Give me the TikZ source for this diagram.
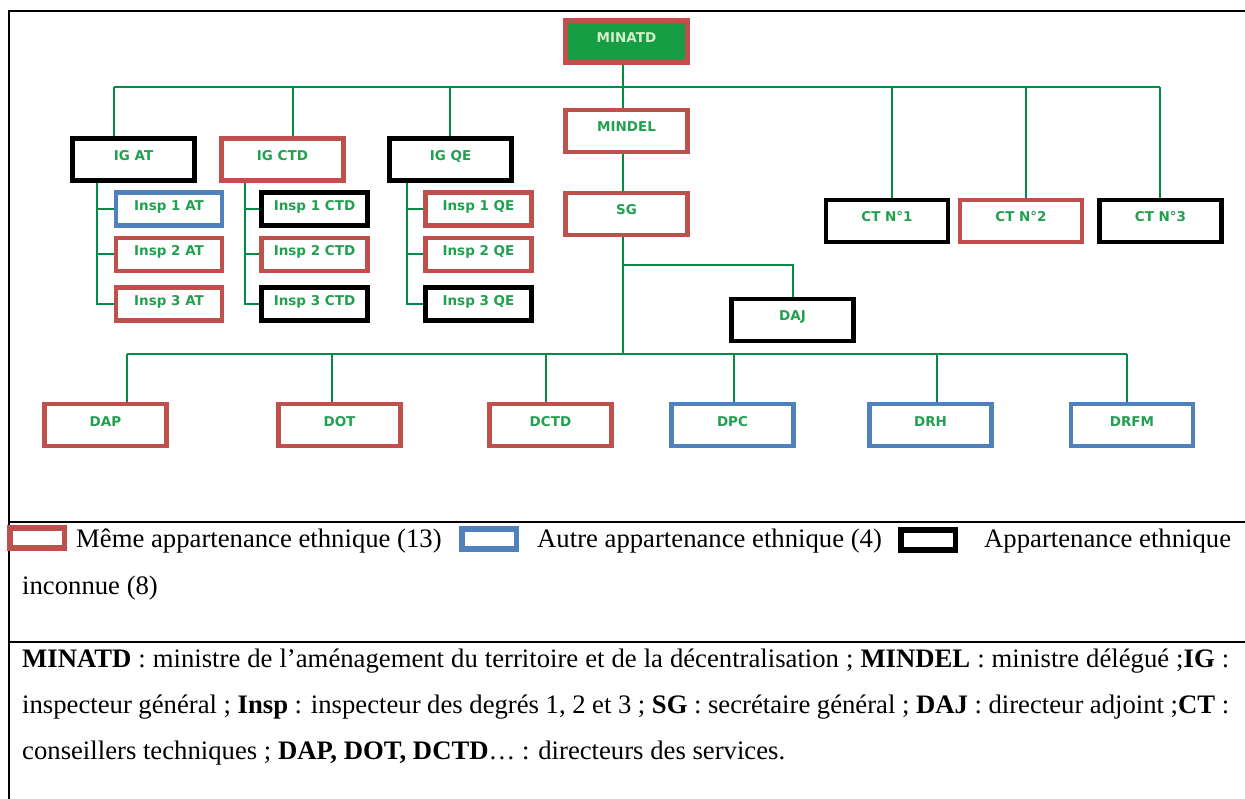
\documentclass[tikz,border=0pt]{standalone}
\usepackage{fontspec}
\setmainfont{Liberation Serif}
\newfontfamily\chartfont{DejaVu Sans}
\usepackage{xcolor}
\usetikzlibrary{positioning}
\usetikzlibrary{calc}
\usetikzlibrary{backgrounds}

\definecolor{boxred}{RGB}{192,80,77}
\definecolor{boxblue}{RGB}{79,129,189}
\definecolor{linegreen}{RGB}{0,140,70}
\definecolor{textgreen}{RGB}{34,160,80}
\definecolor{headgreen}{RGB}{22,158,68}
\definecolor{headtext}{RGB}{210,240,200}

\begin{document}
\begin{tikzpicture}[x=1pt,y=-1pt,
	unit/.style={draw, line width=4.5pt, fill=white, inner sep=0pt, minimum width=122pt, minimum height=42pt, text height=10pt, text depth=8pt, text=textgreen, font=\chartfont\bfseries\fontsize{13.5}{16}\selectfont},
	insp/.style={unit, minimum width=106pt, minimum height=33pt, text depth=7pt},
	link/.style={draw=linegreen, line width=2pt},
	key/.style={draw, line width=5.5pt, fill=white, inner sep=0pt, minimum width=54.5pt, minimum height=20pt},
	legendtext/.style={inner sep=0pt, font=\fontsize{26.7}{32}\selectfont}]

	\useasboundingbox (0,0) rectangle (1245,799);

	% table frame
	\draw[line width=2pt] (9,799) -- (9,11) -- (1245,11);
	\draw[line width=2pt] (9,522) -- (1245,522);
	\draw[line width=2pt] (9,642) -- (1245,642);

	% main column
	\node[unit, draw=boxred, fill=headgreen, text=headtext] (minatd) at (626.5,41.5) {MINATD};
	\node[unit, draw=boxred] (mindel) at (626.5,131) {MINDEL};
	\node[unit, draw=boxred] (sg) at (626.5,214) {SG};
	\node[unit, draw=black] (daj) at (792.5,320) {DAJ};

	% inspections
	\node[unit, draw=black] (igat) at (133.5,159.5) {IG AT};
	\node[unit, draw=boxred] (igctd) at (282.5,159.5) {IG CTD};
	\node[unit, draw=black] (igqe) at (450.5,159.5) {IG QE};

	\node[insp, draw=boxblue] (inspat1) at (169,209) {Insp 1 AT};
	\node[insp, draw=boxred] (inspat2) at (169,254.5) {Insp 2 AT};
	\node[insp, draw=boxred] (inspat3) at (169,304) {Insp 3 AT};

	\node[insp, draw=black] (inspctd1) at (314.5,209) {Insp 1 CTD};
	\node[insp, draw=boxred] (inspctd2) at (314.5,254.5) {Insp 2 CTD};
	\node[insp, draw=black] (inspctd3) at (314.5,304) {Insp 3 CTD};

	\node[insp, draw=boxred] (inspqe1) at (478.5,209) {Insp 1 QE};
	\node[insp, draw=boxred] (inspqe2) at (478.5,254.5) {Insp 2 QE};
	\node[insp, draw=black] (inspqe3) at (478.5,304) {Insp 3 QE};

	% technical advisers
	\node[unit, draw=black] (ct1) at (887,221) {CT N°1};
	\node[unit, draw=boxred] (ct2) at (1021,221) {CT N°2};
	\node[unit, draw=black] (ct3) at (1160.5,221) {CT N°3};

	% directions
	\node[unit, draw=boxred] (dap) at (105.5,425) {DAP};
	\node[unit, draw=boxred] (dot) at (339.5,425) {DOT};
	\node[unit, draw=boxred] (dctd) at (550.5,425) {DCTD};
	\node[unit, draw=boxblue] (dpc) at (732.5,425) {DPC};
	\node[unit, draw=boxblue] (drh) at (930.5,425) {DRH};
	\node[unit, draw=boxblue] (drfm) at (1132,425) {DRFM};

	% connectors
	\coordinate (t1) at (114,87);
	\coordinate (t2) at (293,87);
	\coordinate (t3) at (450,87);
	\coordinate (t4) at (892,87);
	\coordinate (t5) at (1026,87);
	\coordinate (t6) at (1160,87);
	\coordinate (axis) at (623,87);
	\coordinate (fork) at (623,265);
	\coordinate (b1) at (127,354);
	\coordinate (b2) at (332,354);
	\coordinate (b3) at (546,354);
	\coordinate (b4) at (734,354);
	\coordinate (b5) at (937,354);
	\coordinate (b6) at (1127,354);
	\coordinate (atx) at (97,0);
	\coordinate (ctdx) at (245,0);
	\coordinate (qex) at (407,0);

	\begin{scope}[on background layer]
	\draw[link] (t1) -- (t6);
	\draw[link] (axis |- minatd.south) -- (axis |- mindel.north);
	\draw[link] (axis |- mindel.south) -- (axis |- sg.north);
	\draw[link] (axis |- sg.south) -- (axis |- b1);
	\draw[link] (fork) -| (daj.north);
	\draw[link] (b1) -- (b6);
	\foreach \t/\n in {t1/igat, t2/igctd, t3/igqe, t4/ct1, t5/ct2, t6/ct3, b1/dap, b2/dot, b3/dctd, b4/dpc, b5/drh, b6/drfm}
		\draw[link] (\t) -- (\t |- \n.north);
	\foreach \x/\g/\i in {atx/igat/inspat, ctdx/igctd/inspctd, qex/igqe/inspqe} {
		\draw[link] (\x |- \g.south) |- (\i3.west);
		\draw[link] (\x |- \i1.west) -- (\i1.west);
		\draw[link] (\x |- \i2.west) -- (\i2.west);
	}
	\end{scope}

	% legend
	\node[key, draw=boxred] (keyred) at (37,538) {};
	\node[key, draw=boxblue] (keyblue) at (489,539) {};
	\node[key, draw=black] (keyblack) at (928,540) {};
	\node[legendtext, anchor=base west] (same) at (76,547) {Même appartenance ethnique (13)};
	\node[legendtext, anchor=base west] (other) at (537,547) {Autre appartenance ethnique (4)};
	\node[legendtext, anchor=base west] (unknown) at (984,547) {Appartenance ethnique};
	\node[legendtext, anchor=base west] (unknown2) at (22,594) {inconnue (8)};

	% abbreviations
	\node[legendtext, anchor=base west] (note1) at (22,667) {\makebox[1207pt][s]{\textbf{MINATD} : ministre de l’aménagement du territoire et de la décentralisation ; \textbf{MINDEL} : ministre délégué ;\textbf{IG} :}};
	\node[legendtext, anchor=base west] (note2) at (22,713) {\makebox[1207pt][s]{inspecteur général ; \textbf{Insp} : inspecteur des degrés 1, 2 et 3 ; \textbf{SG} : secrétaire général ; \textbf{DAJ} : directeur adjoint ;\textbf{CT} :}};
	\node[legendtext, anchor=base west] (note3) at (22,759) {conseillers techniques ; \textbf{DAP, DOT, DCTD}… : directeurs des services.};
\end{tikzpicture}
\end{document}
